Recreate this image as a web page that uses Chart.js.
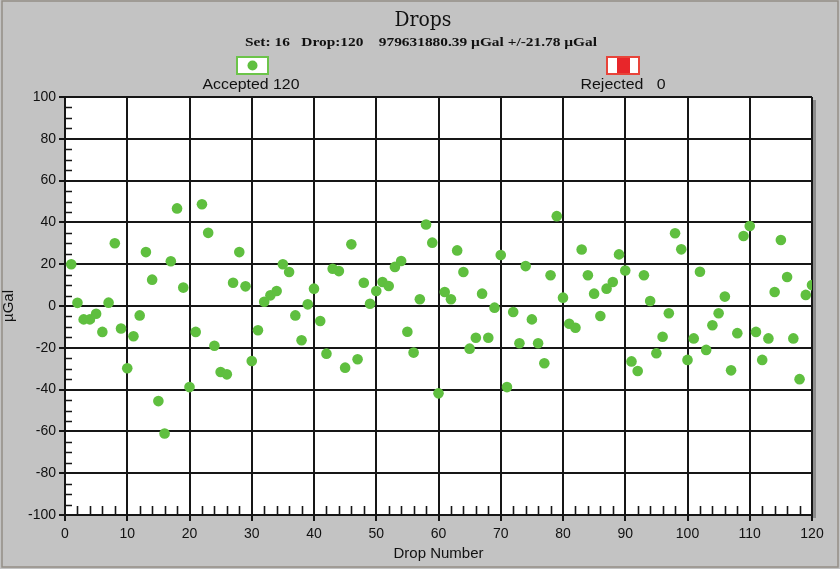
<!DOCTYPE html>
<html><head><meta charset="utf-8">
<script src="https://cdn.jsdelivr.net/npm/chart.js@4.4.1/dist/chart.umd.min.js"></script>
<style>html,body{margin:0;padding:0;background:#c3c3c3;}#wrap{width:840px;height:569px;}</style>
</head><body><div id="wrap"><canvas id="c" width="840" height="569"></canvas></div>
<script>
// ---- data ----
const accepted = [
  20, 1.5, -6.4, -6.4, -3.7, -12.4, 1.6, 30, -10.8, -29.8,
  -14.5, -4.5, 25.8, 12.6, -45.5, -61, 21.4, 46.7, 8.8, -38.8,
  -12.4, 48.7, 35, -19, -31.6, -32.7, 11.1, 25.8, 9.4, -26.3,
  -11.6, 2, 5.1, 7.2, 20, 16.3, -4.5, -16.4, 0.8, 8.3,
  -7.2, -22.8, 17.8, 16.7, -29.5, 29.5, -25.5, 11.1, 1.1, 7.2,
  11.5, 9.6, 18.7, 21.5, -12.3, -22.3, 3.2, 39, 30.3, -41.8,
  6.7, 3.2, 26.6, 16.3, -20.4, -15.2, 5.9, -15.2, -0.8, 24.4,
  -38.8, -2.9, -17.8, 19.1, -6.4, -17.8, -27.4, 14.7, 43, 4,
  -8.5, -10.4, 27, 14.7, 5.9, -4.8, 8.3, 11.5, 24.7, 17,
  -26.5, -31.1, 14.7, 2.4, -22.6, -14.7, -3.5, 34.8, 27.1, -25.8,
  -15.5, 16.4, -21, -9.2, -3.5, 4.5, -30.8, -13, 33.5, 38.3,
  -12.4, -25.8, -15.5, 6.7, 31.6, 13.9, -15.5, -35, 5.3, 10
];
const dropNumbers = accepted.map((v, i) => i + 1);
const rejected = [];
const xTicks = [0, 10, 20, 30, 40, 50, 60, 70, 80, 90, 100, 110, 120];
const yTicks = [-100, -80, -60, -40, -20, 0, 20, 40, 60, 80, 100];
const xMinorTicks = [2,4,6,8,12,14,16,18,22,24,26,28,32,34,36,38,42,44,46,48,52,54,56,58,62,64,66,68,72,74,76,78,82,84,86,88,92,94,96,98,102,104,106,108,112,114,116,118];
const yMinorTicks = [-95,-90,-85,-75,-70,-65,-55,-50,-45,-35,-30,-25,-15,-10,-5,5,10,15,25,30,35,45,50,55,65,70,75,85,90,95];
const titleText = 'Drops';
const subtitleText = 'Set: 16   Drop:120    979631880.39 \u00b5Gal +/-21.78 \u00b5Gal';
const acceptedLabel = 'Accepted ' + accepted.length;
const rejectedLabel = 'Rejected   ' + rejected.length;

const GREEN = '#5fbf3f';
const RED = '#e8262a';
const INK = '#161616';

function fitText(ctx, text, cx, y, width) {
  const w = ctx.measureText(text).width;
  ctx.save();
  ctx.translate(cx, y);
  ctx.scale(width / w, 1);
  ctx.textAlign = 'center';
  ctx.fillText(text, 0, 0);
  ctx.restore();
}

const deco = {
  id: 'deco',
  beforeDraw(chart) {
    const ctx = chart.ctx, a = chart.chartArea;
    ctx.save();
    ctx.fillStyle = '#c3c3c3';
    ctx.fillRect(0, 0, chart.width, chart.height);
    ctx.strokeStyle = '#948e86';
    ctx.lineWidth = 1.5;
    ctx.strokeRect(2, 1, 836, 566);
    ctx.fillStyle = '#8c8c8c';
    ctx.fillRect(a.right + 1, a.top + 3, 3, a.bottom - a.top);
    ctx.fillStyle = '#ffffff';
    ctx.fillRect(a.left, a.top, a.right - a.left, a.bottom - a.top);
    ctx.restore();
  },
  afterDraw(chart) {
    const ctx = chart.ctx, a = chart.chartArea;
    const xs = chart.scales.x, ys = chart.scales.y;
    ctx.save();
    // minor ticks
    ctx.strokeStyle = INK;
    ctx.lineWidth = 1.6;
    ctx.beginPath();
    xMinorTicks.forEach(v => {
      const px = Math.round(xs.getPixelForValue(v)) + 0.5;
      ctx.moveTo(px, a.bottom); ctx.lineTo(px, a.bottom - 9);
    });
    yMinorTicks.forEach(v => {
      const py = Math.round(ys.getPixelForValue(v)) + 0.5;
      ctx.moveTo(a.left, py); ctx.lineTo(a.left + 7, py);
    });
    ctx.stroke();
    // titles
    ctx.fillStyle = '#111';
    ctx.font = '20px "DejaVu Serif"';
    fitText(ctx, titleText, 423, 26, 57);
    ctx.font = 'bold 13px "Liberation Serif"';
    fitText(ctx, subtitleText, 421, 46, 352);
    // legend: accepted
    ctx.fillStyle = '#ffffff';
    ctx.fillRect(237, 57, 31, 17);
    ctx.strokeStyle = '#6cc44a';
    ctx.lineWidth = 2;
    ctx.strokeRect(237, 57, 31, 17);
    ctx.fillStyle = GREEN;
    ctx.beginPath(); ctx.arc(252.5, 65.5, 5, 0, Math.PI * 2); ctx.fill();
    // legend: rejected
    ctx.fillStyle = '#ffffff';
    ctx.fillRect(607, 57, 32, 17);
    ctx.fillStyle = RED;
    ctx.fillRect(617, 57, 13, 17);
    ctx.strokeStyle = '#e8443a';
    ctx.lineWidth = 2;
    ctx.strokeRect(607, 57, 32, 17);
    ctx.fillStyle = '#111';
    ctx.font = '14px "Liberation Sans"';
    fitText(ctx, acceptedLabel, 251, 89, 97);
    fitText(ctx, rejectedLabel, 623, 89, 85);
    ctx.restore();
  }
};

new Chart(document.getElementById('c'), {
  type: 'scatter',
  data: {
    datasets: [{
      label: acceptedLabel,
      data: accepted.map((v, i) => ({ x: dropNumbers[i], y: v })),
      backgroundColor: GREEN,
      borderColor: GREEN,
      borderWidth: 0,
      pointRadius: 5.3,
      pointHoverRadius: 5.3
    }, {
      label: rejectedLabel,
      data: rejected,
      backgroundColor: RED,
      pointRadius: 5
    }]
  },
  options: {
    responsive: false,
    animation: false,
    devicePixelRatio: 1,
    layout: { padding: { top: 97, right: 28, left: 0, bottom: 0 } },
    plugins: { legend: { display: false }, title: { display: false }, tooltip: { enabled: false } },
    scales: {
      x: {
        type: 'linear', min: 0, max: 120,
        afterBuildTicks: s => { s.ticks = xTicks.map(v => ({ value: v })); },
        afterFit: s => { s.height = 54; s.paddingLeft = 0; s.paddingRight = 0; },
        grid: { color: INK, lineWidth: 2, tickLength: 6, drawTicks: true },
        border: { display: true, color: INK, width: 2 },
        ticks: { color: '#111', font: { family: 'Liberation Sans', size: 14 }, padding: 5, maxRotation: 0, autoSkip: false },
        title: { display: true, text: 'Drop Number', color: '#111', font: { family: 'Liberation Sans', size: 15 }, padding: { top: 0, bottom: 6 } }
      },
      y: {
        type: 'linear', min: -100, max: 100,
        afterBuildTicks: s => { s.ticks = yTicks.map(v => ({ value: v })); },
        afterFit: s => { s.width = 65; s.paddingTop = 0; s.paddingBottom = 0; },
        grid: { color: INK, lineWidth: 2, tickLength: 6, drawTicks: true },
        border: { display: true, color: INK, width: 2 },
        ticks: { color: '#111', font: { family: 'Liberation Sans', size: 14 }, padding: 3, autoSkip: false },
        title: { display: true, text: '\u00b5Gal', color: '#111', font: { family: 'Liberation Sans', size: 15 }, padding: { top: 0, bottom: 0 } }
      }
    }
  },
  plugins: [deco]
});
</script>
</body></html>
